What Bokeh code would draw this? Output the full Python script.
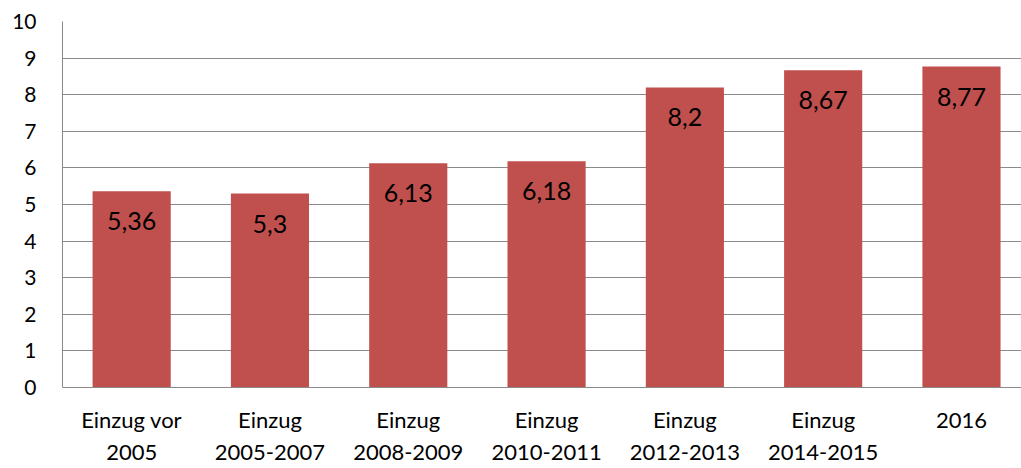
from bokeh.plotting import figure
from bokeh.models import Range1d, FixedTicker, ColumnDataSource
from bokeh.core.properties import value
from bokeh.embed import file_html
from bokeh.resources import INLINE

categories = ["Einzug vor\n2005", "Einzug\n2005-2007", "Einzug\n2008-2009", "Einzug\n2010-2011",
              "Einzug\n2012-2013", "Einzug\n2014-2015", "2016"]
values = [5.36, 5.3, 6.13, 6.18, 8.2, 8.67, 8.77]
y_ticks = list(range(0, 11))

xs = list(range(len(categories)))
labels = [str(v).replace(".", ",") for v in values]
src = ColumnDataSource(dict(x=xs, top=values, label=labels))

FONT = "Lato"
GRID = "#8a8a8a"

p = figure(width=1021, height=467, output_backend="svg", toolbar_location=None,
           x_range=Range1d(-0.5, 6.434), y_range=Range1d(0, 10),
           min_border_left=62, min_border_right=0, min_border_top=21, min_border_bottom=79)
p.outline_line_color = None
p.background_fill_color = "white"

p.vbar(x="x", top="top", width=0.565, bottom=0, source=src, fill_color="#C0504D", line_color=None)
p.text(x="x", y="top", text="label", source=src, text_align="center", text_baseline="middle",
       y_offset=30, text_font=value(FONT), text_font_size="25px", text_color="black")

p.xaxis.ticker = FixedTicker(ticks=xs)
p.xaxis.major_label_overrides = {i: c for i, c in zip(xs, categories)}
p.yaxis.ticker = FixedTicker(ticks=y_ticks)

for ax in (p.xaxis[0], p.yaxis[0]):
    ax.axis_line_color = GRID
    ax.axis_line_width = 1
    ax.major_tick_line_color = None
    ax.minor_tick_line_color = None
    ax.major_tick_in = 0
    ax.major_tick_out = 0
    ax.major_label_text_font = FONT
    ax.major_label_text_color = "black"

p.yaxis.major_label_text_font_size = "21px"
p.yaxis.major_label_standoff = 26
p.xaxis.major_label_text_font_size = "22px"
p.xaxis.major_label_standoff = 18

p.xgrid.grid_line_color = None
p.ygrid.ticker = FixedTicker(ticks=y_ticks)
p.ygrid.grid_line_color = GRID
p.ygrid.grid_line_width = 1

open("out.html", "w").write(file_html(p, INLINE))
